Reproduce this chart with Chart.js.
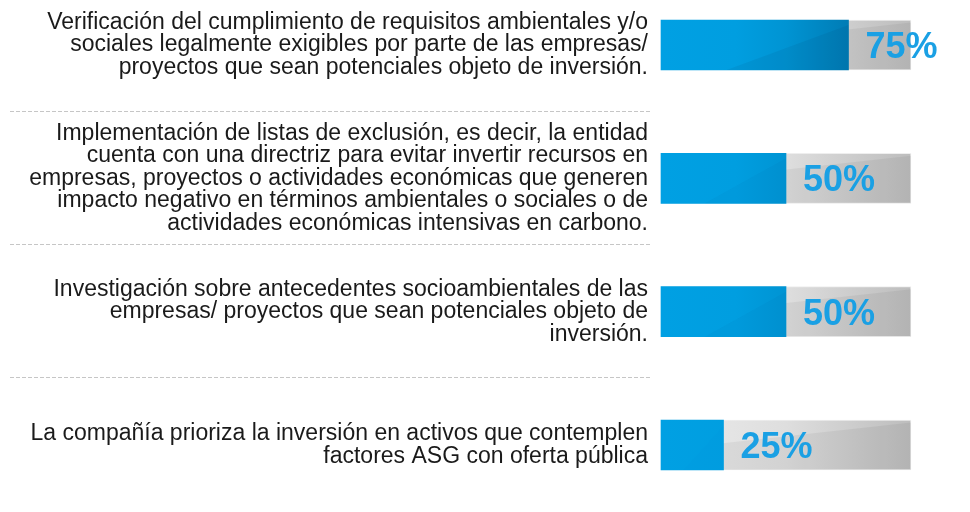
<!DOCTYPE html>
<html>
<head>
<meta charset="utf-8">
<script src="https://cdn.jsdelivr.net/npm/chart.js@4.4.0/dist/chart.umd.min.js"></script>
<style>
  html, body { margin: 0; padding: 0; background: #fff; }
  #wrap { width: 970px; height: 512px; }
</style>
</head>
<body>
<div id="wrap"><canvas id="chart"></canvas></div>
<script>
// categories (multi-line labels as shown)
const categories = [
  ['Verificación del cumplimiento de requisitos ambientales y/o',
   'sociales legalmente exigibles por parte de las empresas/',
   'proyectos que sean potenciales objeto de inversión.'],
  ['Implementación de listas de exclusión, es decir, la entidad',
   'cuenta con una directriz para evitar invertir recursos en',
   'empresas, proyectos o actividades económicas que generen',
   'impacto negativo en términos ambientales o sociales o de',
   'actividades económicas intensivas en carbono.'],
  ['Investigación sobre antecedentes socioambientales de las',
   'empresas/ proyectos que sean potenciales objeto de',
   'inversión.'],
  ['La compañía prioriza la inversión en activos que contemplen',
   'factores ASG con oferta pública']
];
const values = [75, 50, 50, 25];
const track = [100, 100, 100, 100];

function hGradient(ctx, stops) {
  const area = ctx.chart.chartArea;
  if (!area) return stops[0][1];
  const g = ctx.chart.ctx.createLinearGradient(area.left, 0, area.right, 0);
  stops.forEach(s => g.addColorStop(s[0], s[1]));
  return g;
}

// slight diagonal shading on each bar (glossy look)
const sheen = {
  id: 'sheen',
  afterDatasetDraw(chart, args) {
    const c = chart.ctx;
    const full = chart.chartArea.right - chart.chartArea.left;
    c.save();
    args.meta.data.forEach(bar => {
      const p = bar.getProps(['x', 'y', 'base', 'height'], true);
      const top = p.y - p.height / 2, bot = p.y + p.height / 2;
      const len = p.x - p.base;
      c.beginPath();
      if (args.index === 0) {
        const k = len / full;
        c.fillStyle = 'rgba(0,40,80,' + (0.13 * k * k).toFixed(3) + ')';
        c.moveTo(p.base + len * 0.35, bot);
        c.lineTo(p.x, top + p.height * 0.1);
        c.lineTo(p.x, bot);
      } else {
        c.fillStyle = 'rgba(0,0,0,0.05)';
        c.moveTo(p.base, top + p.height * 0.6);
        c.lineTo(p.x, top + p.height * 0.05);
        c.lineTo(p.x, bot);
        c.lineTo(p.base, bot);
      }
      c.closePath();
      c.fill();
    });
    c.restore();
  }
};

// percent labels next to the blue bars
const pctLabels = {
  id: 'pctLabels',
  afterDatasetsDraw(chart) {
    const c = chart.ctx;
    const meta = chart.getDatasetMeta(0);
    c.save();
    c.font = 'bold 36px "Liberation Sans", Arial, sans-serif';
    c.fillStyle = '#1aa0e4';
    c.textAlign = 'left';
    c.textBaseline = 'middle';
    meta.data.forEach((bar, i) => {
      c.fillText(values[i] + '%', bar.x + 17, bar.y + 3);
    });
    c.restore();
  }
};

// dashed separators between the label blocks
const separators = {
  id: 'separators',
  afterDraw(chart) {
    const c = chart.ctx;
    const y = chart.scales.y;
    c.save();
    c.strokeStyle = '#c6c6c6';
    c.lineWidth = 1;
    c.setLineDash([4, 2]);
    for (let i = 0; i < categories.length - 1; i++) {
      const py = Math.round(y.getPixelForValue(i + 0.5)) - 0.5;
      c.beginPath();
      c.moveTo(10, py);
      c.lineTo(652, py);
      c.stroke();
    }
    c.restore();
  }
};

new Chart(document.getElementById('chart').getContext('2d'), {
  type: 'bar',
  data: {
    labels: categories,
    datasets: [
      {
        data: values,
        grouped: false,
        clip: false,
        barThickness: 50,
        borderWidth: 0,
        backgroundColor: ctx => hGradient(ctx, [[0, '#00a0e3'], [0.3, '#009ee0'], [0.5, '#0094d3'], [0.75, '#007cb5'], [1, '#006a9c']])
      },
      {
        data: track,
        grouped: false,
        clip: false,
        barThickness: 50,
        borderWidth: 1,
        borderColor: '#eeeeee',
        backgroundColor: ctx => hGradient(ctx, [[0, '#ececec'], [0.5, '#dedede'], [1, '#bdbdbd']])
      }
    ]
  },
  options: {
    indexAxis: 'y',
    responsive: true,
    maintainAspectRatio: false,
    animation: false,
    layout: { padding: { top: 45, bottom: 67, right: 59, left: 0 } },
    plugins: { legend: { display: false }, tooltip: { enabled: false } },
    scales: {
      x: { min: 0, max: 100, display: false },
      y: {
        offset: false,
        border: { display: false },
        grid: { display: false, drawTicks: false },
        afterFit(scale) { scale.width = 661; },
        ticks: {
          padding: 13,
          color: '#1a1a1a',
          font: { family: '"Liberation Sans", Arial, sans-serif', size: 23, lineHeight: '22.5px' }
        }
      }
    }
  },
  plugins: [sheen, pctLabels, separators]
});
</script>
</body>
</html>
